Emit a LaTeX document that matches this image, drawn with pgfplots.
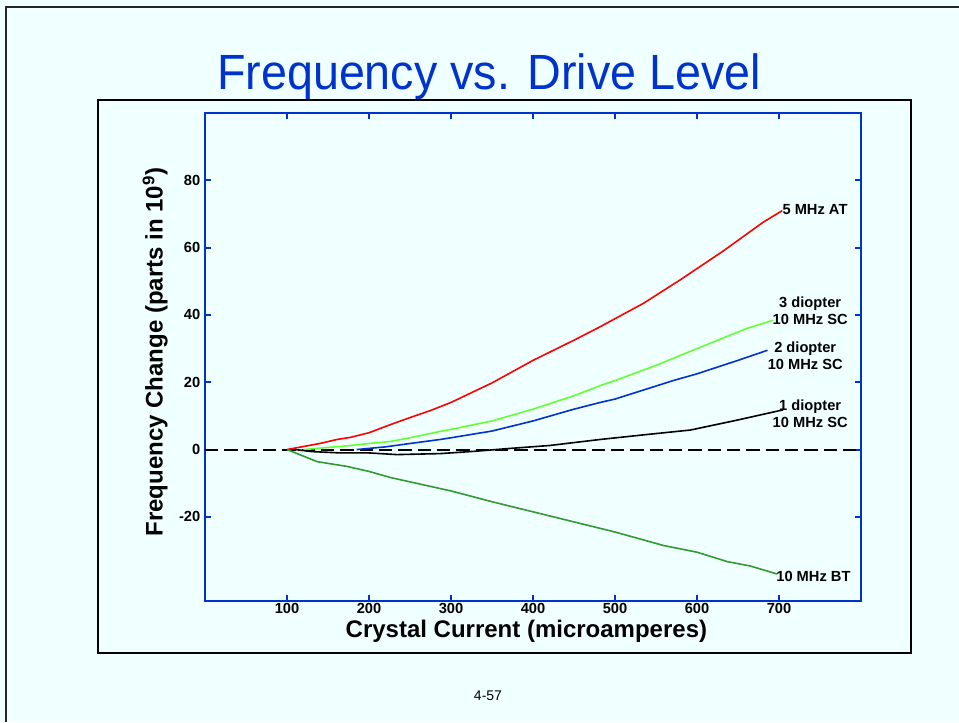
\documentclass[border=0pt]{standalone}
\usepackage{fontspec}
\setmainfont{Liberation Sans}
\setsansfont{Liberation Sans}
\usepackage{pgfplots}
\pgfplotsset{compat=1.18}

\definecolor{bgazure}{RGB}{240,255,255}
\definecolor{axblue}{RGB}{0,51,204}
\definecolor{ltgreen}{RGB}{102,255,51}
\definecolor{dkgreen}{RGB}{51,153,51}

\begin{document}
\begin{tikzpicture}
% page background and frames (units: 1px = 0.75pt)
\fill[bgazure] (0pt,0pt) rectangle (719.25pt,541.5pt);
\draw[line width=1.5pt, black!85] (4.5pt,0pt) -- (4.5pt,536.25pt) -- (719.25pt,536.25pt);
\draw[line width=1.5pt, black] (73.5pt,51.75pt) rectangle (683.25pt,466.5pt);

% title
\node[anchor=base, text=axblue, font=\fontsize{35}{40}\selectfont, yscale=1.06] at (366.75pt,474pt) {Frequency vs. Drive Level};

\begin{axis}[
    at={(153.75pt,90.75pt)}, anchor=south west,
    scale only axis,
    width=492pt, height=366pt,
    xmin=0, xmax=800,
    ymin=-45, ymax=100,
    xtick={100,200,300,400,500,600,700},
    xticklabels={100,200,300,400,500,600,700},
    ytick={-20,0,20,40,60,80},
    yticklabels={-20,0,20,40,60,80},
    tick align=inside,
    major tick length=4.5pt,
    axis line style={draw=axblue, line width=1.5pt},
    tick style={draw=axblue, line width=1.5pt},
    ticklabel style={font=\fontsize{11}{12}\selectfont\bfseries, text=black},
    xticklabel style={yshift=1.5pt},
    xlabel={Crystal Current (microamperes)},
    ylabel={Frequency Change (parts in 10\textsuperscript{9})},
    label style={font=\fontsize{18}{20}\selectfont\bfseries},
    xlabel style={at={(axis description cs:0.49,-0.063)}, anchor=center},
    ylabel style={at={(axis description cs:-0.076,0.51)}, anchor=center},
    clip=false,
]

% zero reference line
\addplot[black, line width=1.5pt, dash pattern=on 10pt off 4.5pt] coordinates {(0,0) (800,0)};

% 5 MHz AT
\addplot[red, line width=1.2pt] coordinates {
    (100,0) (140,1.8) (161,3.0) (177,3.6) (200,5.0) (226,7.4) (250,9.5) (275,11.6)
    (300,14) (350,19.8) (400,26.5) (450,32.5) (482,36.5) (535,43.5) (580,50.5)
    (632,59) (681,67.6) (704,71)
};
% 3 diopter 10 MHz SC
\addplot[ltgreen, line width=1.2pt] coordinates {
    (120,0) (140,0.4) (177,1.2) (200,1.8) (226,2.4) (250,3.5) (287,5.4) (300,6)
    (350,8.5) (400,12) (450,16) (482,19) (500,20.5) (550,25) (600,30) (661,36) (693,38.4)
};
% 2 diopter 10 MHz SC
\addplot[axblue, line width=1.2pt] coordinates {
    (185,0) (220,0.8) (250,1.8) (287,3) (300,3.5) (350,5.5) (400,8.5) (450,12)
    (482,14) (500,15) (571,20.5) (600,22.5) (650,26.5) (686,29.5)
};
% 1 diopter 10 MHz SC
\addplot[black, line width=1.2pt] coordinates {
    (110,0) (130,-0.6) (165,-1) (200,-1) (234,-1.5) (287,-1.2) (330,-0.5)
    (370,0.3) (420,1.2) (482,3) (540,4.5) (592,5.8) (650,8.8) (705,11.8)
};
% 10 MHz BT
\addplot[dkgreen, line width=1.2pt] coordinates {
    (100,0) (137,-3.6) (173,-5) (200,-6.5) (226,-8.3) (287,-11.6) (300,-12.3)
    (350,-15.5) (400,-18.5) (450,-21.5) (500,-24.5) (559,-28.5) (600,-30.5)
    (637,-33.3) (665,-34.6) (698,-37)
};

% curve labels
\begin{scope}[every node/.style={font=\fontsize{11}{12.75}\selectfont\bfseries, align=center, inner sep=0pt}]
\node[anchor=west] at (axis cs:704,71.2) {5 MHz AT};
\node at (axis cs:738,41.2) {3 diopter\\10 MHz SC};
\node at (axis cs:732,27.8) {2 diopter\\10 MHz SC};
\node at (axis cs:738,10.6) {1 diopter\\10 MHz SC};
\node at (axis cs:742,-37.8) {10 MHz BT};
\end{scope}
\end{axis}

% slide number
\node[font=\fontsize{10.5}{12}\selectfont] at (366pt,19.5pt) {4-57};

\pgfresetboundingbox
\useasboundingbox (0pt,0pt) rectangle (719.25pt,541.5pt);
\end{tikzpicture}
\end{document}
